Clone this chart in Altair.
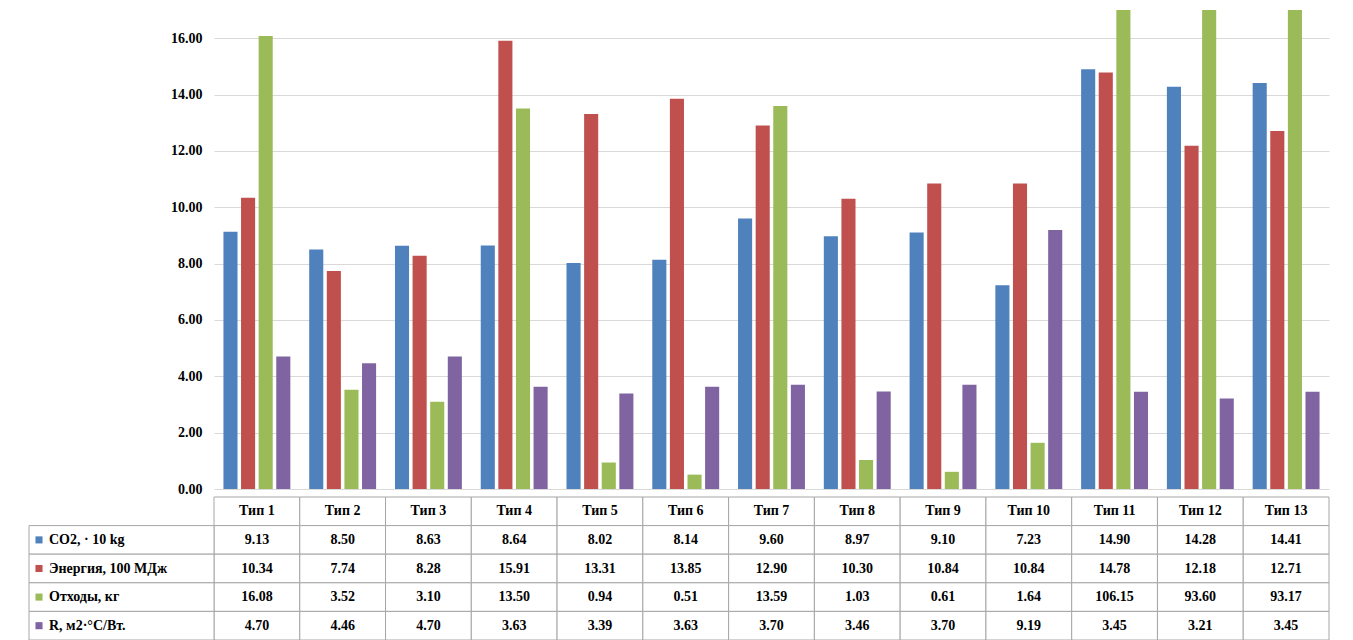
import pandas as pd
import altair as alt

types = ['Тип %d' % i for i in range(1, 14)]
series = ['CO2, · 10 kg', 'Энергия, 100 МДж', 'Отходы, кг', 'R, м2·°С/Вт.']
colors = ['#4F81BD', '#C0504D', '#9BBB59', '#8064A2']
co2 = [9.13, 8.50, 8.63, 8.64, 8.02, 8.14, 9.60, 8.97, 9.10, 7.23, 14.90, 14.28, 14.41]
energy = [10.34, 7.74, 8.28, 15.91, 13.31, 13.85, 12.90, 10.30, 10.84, 10.84, 14.78, 12.18, 12.71]
waste = [16.08, 3.52, 3.10, 13.50, 0.94, 0.51, 13.59, 1.03, 0.61, 1.64, 106.15, 93.60, 93.17]
resist = [4.70, 4.46, 4.70, 3.63, 3.39, 3.63, 3.70, 3.46, 3.70, 9.19, 3.45, 3.21, 3.45]

values = [co2, energy, waste, resist]
rows = []
for s, vals in zip(series, values):
    for t, v in zip(types, vals):
        rows.append({'type': t, 'series': s, 'value': v, 'label': '%.2f' % v})
df = pd.DataFrame(rows)

tbl = df[['type', 'series', 'label']].copy()
hdr = pd.DataFrame({'type': types, 'series': ' ', 'label': types})
tbl = pd.concat([hdr, tbl])
row_order = [' '] + series
labels_df = pd.DataFrame({'series': series, 'color': colors})

font = 'Liberation Serif'
W = 1115
xs = alt.Scale(domain=types, paddingInner=0.22, paddingOuter=0.11)
cs = alt.Scale(domain=series, range=colors)

bars = alt.Chart(df).mark_bar(clip=True).encode(
    x=alt.X('type:N', scale=xs, axis=None, sort=types),
    xOffset=alt.XOffset('series:N', sort=series, scale=alt.Scale(paddingInner=0.2)),
    y=alt.Y('value:Q', scale=alt.Scale(domain=[0, 17], nice=False),
            axis=alt.Axis(values=list(range(0, 17, 2)), format='.2f', title=None,
                          domain=False, ticks=False, labelFont=font, labelFontSize=14,
                          labelFontWeight='bold', labelPadding=12, gridColor='#d9d9d9')),
    color=alt.Color('series:N', scale=cs, legend=None),
).properties(width=W, height=479)

ys = alt.Scale(domain=row_order, paddingInner=0, paddingOuter=0)
xt = alt.Scale(domain=types, paddingInner=0, paddingOuter=0)
cells = alt.Chart(tbl).mark_rect(fill='white', stroke='#a6a6a6', strokeWidth=1).encode(
    x=alt.X('type:N', scale=xt, axis=None, sort=types),
    y=alt.Y('series:N', scale=ys, axis=None, sort=row_order),
)
texts = alt.Chart(tbl).mark_text(font=font, fontSize=14, fontWeight='bold').encode(
    x=alt.X('type:N', scale=xt, axis=None, sort=types),
    y=alt.Y('series:N', scale=ys, axis=None, sort=row_order),
    text='label:N',
)
lcells = alt.Chart(labels_df).mark_rect(fill='white', stroke='#a6a6a6', strokeWidth=1).encode(
    x=alt.value(-185), x2=alt.value(0),
    y=alt.Y('series:N', scale=ys, axis=None, sort=row_order),
)
lsq = alt.Chart(labels_df).mark_square(size=50, opacity=1).encode(
    x=alt.value(-175),
    y=alt.Y('series:N', scale=ys, axis=None, sort=row_order),
    color=alt.Color('color:N', scale=None),
)
ltxt = alt.Chart(labels_df).mark_text(font=font, fontSize=14, fontWeight='bold', align='left').encode(
    x=alt.value(-165),
    y=alt.Y('series:N', scale=ys, axis=None, sort=row_order),
    text='series:N',
)
table = alt.layer(cells, texts, lcells, lsq, ltxt).properties(width=W, height=143)

chart = alt.vconcat(bars, table, spacing=0).configure_view(stroke=None).properties(
    padding={'left': 20, 'top': 2, 'right': 5, 'bottom': 2})

chart.save("out.html", embed_options={"renderer": "svg", "actions": False})
